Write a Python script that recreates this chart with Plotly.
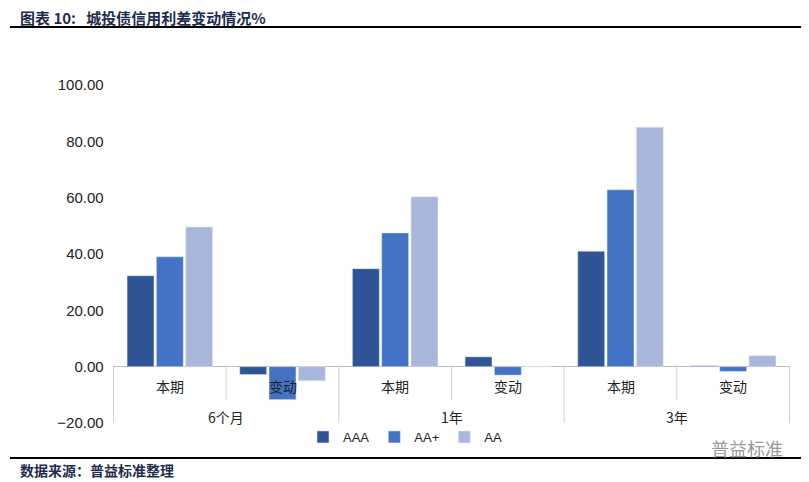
import plotly.graph_objects as go

terms = ["6个月", "1年", "3年"]
kinds = ["本期", "变动"]
cats = [t + k for t in terms for k in kinds]
aaa = [32.3, -2.8, 34.8, 3.5, 41.0, 0.3]
aap = [39.0, -11.7, 47.5, -3.0, 62.8, -1.7]
aa = [49.6, -5.0, 60.3, 0.0, 85.0, 3.9]

colors = ["#2f5597", "#4472c4", "#a9b7dc"]
fig = go.Figure()
for name, vals, c in [("AAA", aaa, colors[0]), ("AA+", aap, colors[1]), ("AA", aa, colors[2])]:
    fig.add_trace(go.Bar(x=cats, y=vals, name=name, marker_color=c))


def px(s):
    return ((s - 8) - 105) / 677


def py(s):
    return (415 - (s - 8)) / 338


font = "Noto Sans CJK SC"
fig.update_layout(
    width=809, height=482, plot_bgcolor="white", paper_bgcolor="white",
    margin=dict(l=105, r=27, t=77, b=67, autoexpand=False),
    bargap=0.22, bargroupgap=0.08,
    font=dict(family=font, size=14, color="#222"),
    legend=dict(orientation="h", x=px(405), xanchor="center", y=py(422), yanchor="top",
                font=dict(size=13, family="Liberation Sans Narrow, Liberation Sans"),
                itemwidth=30, tracegroupgap=0, bgcolor="rgba(0,0,0,0)"),
    xaxis=dict(showticklabels=False, showline=False, showgrid=False, ticks=""),
    yaxis=dict(range=[-20, 100], dtick=20, tickformat=".2f", showgrid=False,
               zeroline=True, zerolinecolor="#bfbfbf", zerolinewidth=1,
               tickfont=dict(family="Liberation Sans", size=15), ticksuffix="  "),
)
for i, c in enumerate(cats):
    fig.add_annotation(x=c, y=-7, text=kinds[i % 2], showarrow=False, font=dict(size=14))
for i, t in enumerate(terms):
    fig.add_annotation(x=2 * i + 0.5, y=-18, text=t, showarrow=False, font=dict(size=14))
for xp in [-0.5, 1.5, 3.5, 5.5]:
    fig.add_shape(type="line", x0=xp, x1=xp, y0=0, y1=-24, xref="x", yref="y",
                  line=dict(color="#d0d0d0", width=1))
for xp in [0.5, 2.5, 4.5]:
    fig.add_shape(type="line", x0=xp, x1=xp, y0=0, y1=-12, xref="x", yref="y",
                  line=dict(color="#d0d0d0", width=1))

fig.add_annotation(xref="paper", yref="paper", x=px(18), y=py(17), xanchor="left", yanchor="middle",
                   text="<b>图表 10:   城投债信用利差变动情况%</b>", showarrow=False,
                   font=dict(size=15, color="#1f2d4d"))
fig.add_annotation(xref="paper", yref="paper", x=px(18), y=py(470), xanchor="left", yanchor="middle",
                   text="<b>数据来源：普益标准整理</b>", showarrow=False, font=dict(size=14, color="#1f2d4d"))
fig.add_annotation(xref="paper", yref="paper", x=px(785), y=py(448), xanchor="right", yanchor="middle",
                   text="普益标准", showarrow=False, font=dict(size=18, color="#999"))
fig.add_shape(type="line", xref="paper", yref="paper", x0=px(10), x1=px(809),
              y0=py(27), y1=py(27), line=dict(color="black", width=2))
fig.add_shape(type="line", xref="paper", yref="paper", x0=px(10), x1=px(809),
              y0=py(458), y1=py(458), line=dict(color="black", width=2))

fig.write_html("out.html")
